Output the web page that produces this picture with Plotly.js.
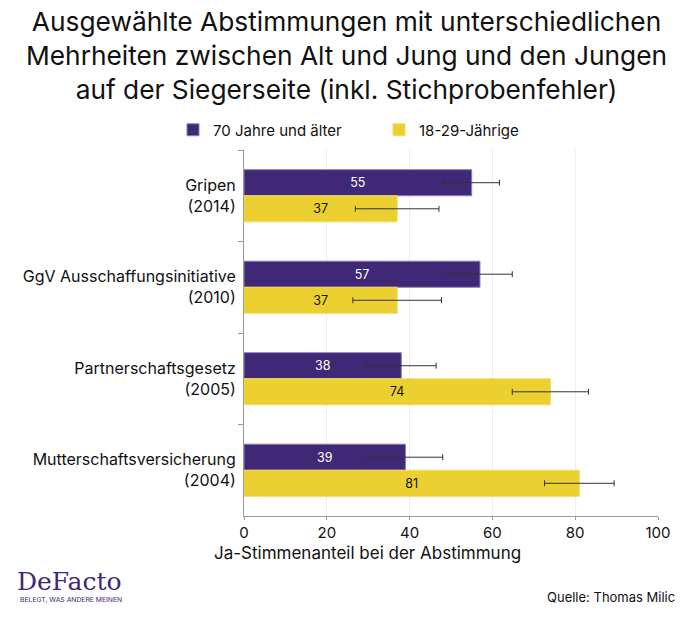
<!DOCTYPE html>
<html>
<head>
<meta charset="utf-8">
<script src="https://cdn.plot.ly/plotly-3.0.1.min.js"></script>
<style>html,body{margin:0;padding:0;background:#fff}#chart{width:692px;height:618px}</style>
</head>
<body>
<div id="chart"></div>
<script>
const categories = ["Gripen<br>(2014)", "GgV Ausschaffungsinitiative<br>(2010)", "Partnerschaftsgesetz<br>(2005)", "Mutterschaftsversicherung<br>(2004)"];
const seriesNames = ["70 Jahre und älter", "18-29-Jährige"];
const oldValues = [55, 57, 38, 39];
const oldErrors = [6.7, 7.8, 8.4, 9.0];
const youngValues = [37, 37, 74, 81];
const youngErrors = [10.1, 10.7, 9.2, 8.4];
const xTicks = [0, 20, 40, 60, 80, 100];

const FONT = "Inter, 'Open Sans', sans-serif";
const purple = "#3f2876";
const yellow = "#ebd02f";

const PT = 150, PH = 366, PL = 244, PW = 414;
const py = Y => (PT + PH - Y) / PH;
const px = X => (X - PL) / PW;

const traces = [
  {
    type: "bar", orientation: "h", name: seriesNames[0],
    y: categories, x: oldValues,
    marker: {color: purple, line: {color: "#8d7fb3", width: 1}},
    text: oldValues.map(String), textposition: "inside", insidetextanchor: "middle",
    textfont: {color: "#ffffff", size: 12.5, family: FONT},
    error_x: {type: "data", array: oldErrors, visible: true, color: "#333333", thickness: 1, width: 3},
    hoverinfo: "x"
  },
  {
    type: "bar", orientation: "h", name: seriesNames[1],
    y: categories, x: youngValues,
    marker: {color: yellow, line: {color: "#f0dd6a", width: 1}},
    text: youngValues.map(String), textposition: "inside", insidetextanchor: "middle",
    textfont: {color: "#111111", size: 12.5, family: FONT},
    error_x: {type: "data", array: youngErrors, visible: true, color: "#333333", thickness: 1, width: 3},
    hoverinfo: "x"
  }
];

const layout = {
  width: 692, height: 618,
  margin: {l: PL, r: 34, t: PT, b: 102},
  paper_bgcolor: "#ffffff", plot_bgcolor: "#ffffff",
  font: {family: FONT, color: "#111111", size: 14},
  barmode: "group", bargap: 0.43, bargroupgap: 0,
  showlegend: true,
  legend: {
    orientation: "h", x: px(173), xanchor: "left", y: py(130), yanchor: "middle",
    font: {family: FONT, size: 15, color: "#111111"}, traceorder: "normal",
    itemwidth: 30, entrywidth: 161, entrywidthmode: "pixels"
  },
  xaxis: {
    range: [0, 100], tickvals: xTicks, ticktext: xTicks.map(String),
    showgrid: true, gridcolor: "#eeeeee", gridwidth: 1, zeroline: false,
    showline: true, linecolor: "#999999", linewidth: 1,
    ticks: "outside", ticklen: 3, tickcolor: "#999999",
    tickfont: {family: FONT, size: 15, color: "#111111"},
    fixedrange: true
  },
  yaxis: {
    type: "category", autorange: "reversed",
    showline: true, linecolor: "#999999", linewidth: 1,
    ticks: "outside", ticklen: 5, tickcolor: "#999999", tickson: "boundaries",
    ticklabelstandoff: 4,
    showgrid: false, zeroline: false,
    tickfont: {family: FONT, size: 16, color: "#111111"},
    fixedrange: true
  },
  annotations: [
    {text: "Ausgewählte Abstimmungen mit unterschiedlichen<br>Mehrheiten zwischen Alt und Jung und den Jungen<br>auf der Siegerseite (inkl. Stichprobenfehler)",
     xref: "paper", yref: "paper", x: px(346), y: py(55), xanchor: "center", yanchor: "middle",
     showarrow: false, align: "center",
     font: {family: FONT, size: 26.3, color: "#111111"}},
    {text: "Ja-Stimmenanteil bei der Abstimmung", xref: "paper", yref: "paper",
     x: px(367), y: py(553), xanchor: "center", yanchor: "middle", showarrow: false,
     font: {family: FONT, size: 17, color: "#111111"}},
    {text: "Quelle: Thomas Milic", xref: "paper", yref: "paper",
     x: px(677), y: py(597), xanchor: "right", yanchor: "middle", showarrow: false,
     font: {family: FONT, size: 13, color: "#111111"}},
    {text: "DeFacto", xref: "paper", yref: "paper",
     x: px(15), y: py(581), xanchor: "left", yanchor: "middle", showarrow: false,
     font: {family: "'DejaVu Serif', serif", size: 25, color: purple}},
    {text: "BELEGT, WAS ANDERE MEINEN", xref: "paper", yref: "paper",
     x: px(18), y: py(599), xanchor: "left", yanchor: "middle", showarrow: false,
     font: {family: FONT, size: 6.8, color: purple}}
  ]
};

Plotly.newPlot("chart", traces, layout, {displayModeBar: false, staticPlot: true});
</script>
</body>
</html>
